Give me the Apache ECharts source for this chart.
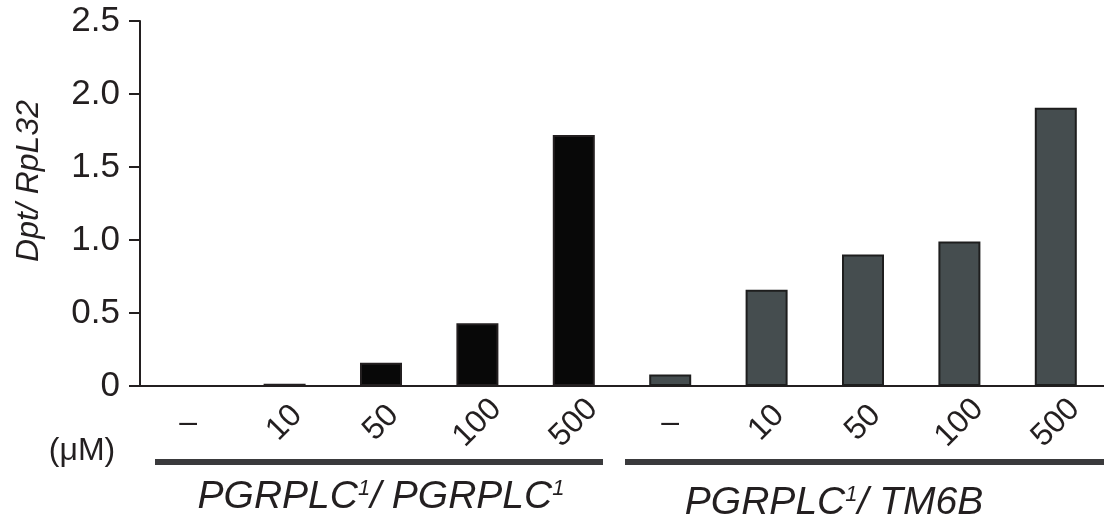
<!DOCTYPE html>
<html><head><meta charset="utf-8">
<script src="https://cdn.jsdelivr.net/npm/echarts@6/dist/echarts.min.js"></script>
<style>html,body{margin:0;padding:0;background:#fff}#c{width:1104px;height:523px}</style>
</head><body><div id="c"></div>
<script>
const categories = ['–', '10', '50', '100', '500', '–', '10', '50', '100', '500'];
const homozygous = [0, 0.015, 0.16, 0.43, 1.72, null, null, null, null, null];
const heterozygous = [null, null, null, null, null, 0.078, 0.66, 0.90, 0.99, 1.905];
const yTickLabels = ['0', '0.5', '1.0', '1.5', '2.0', '2.5'];
const yName = 'Dpt/ RpL32';
const unitLabel = '(μM)';
const groupLabels = ['PGRPLC{s|1}/ PGRPLC{s|1}', 'PGRPLC{s|1}/ TM6B'];

const FONT = '"Liberation Sans", Arial, Helvetica, sans-serif';
const INK = '#231f20';
const chart = echarts.init(document.getElementById('c'), null, {renderer: 'canvas'});

chart.setOption({
  animation: false,
  backgroundColor: '#fff',
  grid: {left: 140, top: 21, width: 975, height: 365},
  xAxis: [{
    type: 'category', data: categories, boundaryGap: true,
    axisLine: {lineStyle: {color: INK, width: 2}},
    axisTick: {inside: true, length: 6, lineStyle: {color: INK, width: 1}},
    axisLabel: {interval: 0, rotate: 45, align: 'center', verticalAlign: 'middle', margin: 37,
      fontSize: 32, color: INK, fontFamily: FONT,
      formatter: v => v === '–' ? '' : v}
  }, {
    type: 'category', data: categories, position: 'bottom', boundaryGap: true,
    axisLine: {show: false}, axisTick: {show: false},
    axisLabel: {interval: 0, verticalAlign: 'middle', margin: 37, fontSize: 32, color: INK, fontFamily: FONT,
      formatter: v => v === '–' ? v : ''}
  }],
  yAxis: {
    type: 'value', min: 0, max: 2.5, interval: 0.5,
    axisLine: {show: true, lineStyle: {color: INK, width: 2}},
    axisTick: {show: true, inside: false, length: 11, lineStyle: {color: INK, width: 2}},
    splitLine: {show: false},
    axisLabel: {margin: 20, fontSize: 35, color: INK, fontFamily: FONT,
      formatter: (v) => yTickLabels[Math.round(v / 0.5)]}
  },
  series: [{
    type: 'bar', data: homozygous, barWidth: 42, barGap: '-100%',
    itemStyle: {color: '#080808', borderColor: '#231f20', borderWidth: 2}
  }, {
    type: 'bar', data: heterozygous, barWidth: 42, barGap: '-100%',
    itemStyle: {color: '#454d4f', borderColor: '#1e1e1e', borderWidth: 2}
  }]
});

const cx = i => chart.convertToPixel({xAxisIndex: 0}, i);
const bw = cx(1) - cx(0);
const lineY = 462;
const richStyle = {s: {fontSize: 22, fontStyle: 'italic', fontFamily: FONT, fill: INK, verticalAlign: 'top'}};
chart.setOption({
  graphic: [
    {type: 'text', x: 29, y: 181, rotation: Math.PI / 2,
      style: {text: yName, fontSize: 32, fontStyle: 'italic', fontFamily: FONT, fill: INK, align: 'center', verticalAlign: 'middle'}},
    {type: 'text', x: 82, y: 451,
      style: {text: unitLabel, fontSize: 32, fontFamily: FONT, fill: INK, align: 'center', verticalAlign: 'middle'}},
    {type: 'line', shape: {x1: cx(0) - bw / 2 + 15, y1: lineY, x2: cx(4) + bw / 2 - 19, y2: lineY},
      style: {stroke: '#3a3a3c', lineWidth: 6}},
    {type: 'line', shape: {x1: cx(5) - bw / 2 + 3, y1: lineY, x2: cx(9) + bw / 2, y2: lineY},
      style: {stroke: '#3a3a3c', lineWidth: 6}},
    {type: 'text', x: cx(2), y: 497,
      style: {text: groupLabels[0], rich: richStyle, fontSize: 39, fontStyle: 'italic', fontFamily: FONT, fill: INK, align: 'center', verticalAlign: 'middle'}},
    {type: 'text', x: cx(7) - 29, y: 503,
      style: {text: groupLabels[1], rich: richStyle, fontSize: 39, fontStyle: 'italic', fontFamily: FONT, fill: INK, align: 'center', verticalAlign: 'middle'}}
  ]
});
</script>
</body></html>
